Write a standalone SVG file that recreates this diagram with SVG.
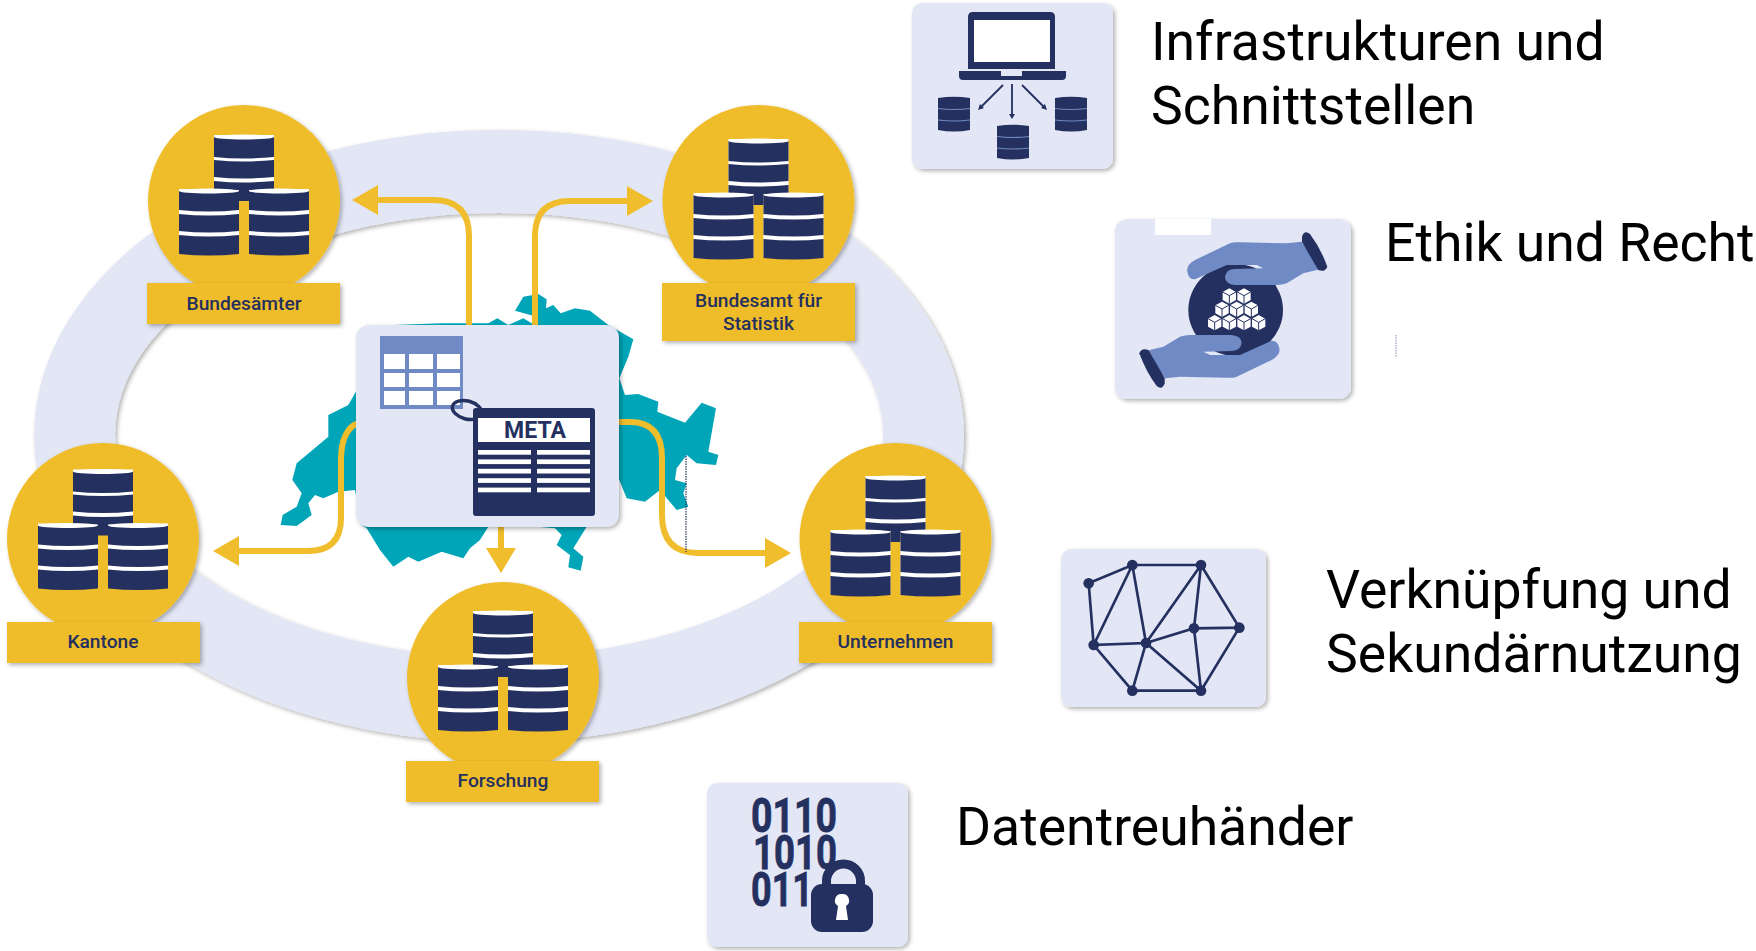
<svg xmlns="http://www.w3.org/2000/svg" width="1756" height="951" viewBox="0 0 1756 951">
<style>
.navy{fill:#24305f}.gold{fill:#f0bd2c}.card{fill:#e2e6f5;filter:url(#sh)}
.lab{font-family:Roboto,"Liberation Sans",sans-serif;font-weight:500;font-size:19.2px;fill:#24305f;text-anchor:middle}
.title{font-family:Roboto,"Liberation Sans",sans-serif;font-size:53.500px;fill:#000}
.bin{font-family:Roboto,"Liberation Sans",sans-serif;font-weight:700;font-size:48px;fill:#24305f;stroke:#24305f;stroke-width:.8}
.conn{fill:none;stroke:#f0bd2c;stroke-width:6}
.thin{fill:none;stroke:#24305f;stroke-width:1.8}
</style>
<defs>
<filter id="sh" x="-10%" y="-10%" width="125%" height="125%"><feDropShadow dx="2" dy="2" stdDeviation="2.2" flood-color="#000" flood-opacity=".3"/></filter>
<g id="db">
<g fill="#fff"><rect x="-30" y="-66" width="60" height="56"/><rect x="-65" y="-12" width="60" height="64"/><rect x="5" y="-12" width="60" height="64"/></g>
<g fill="#24305f">
<rect x="-5" y="-12" width="10" height="12"/>
<path d="M-30,-64 V-44 Q0,-41 30,-44 V-64 Z"/><path d="M-30,-41 V-24 Q0,-21 30,-24 V-41 Q0,-38 -30,-41Z"/><path d="M-30,-20 V-11 H30 V-20 Q0,-17 -30,-20Z"/>
<path d="M-65,-10 V9 Q-35,12 -5,9 V-10 Z"/><path d="M-65,13 V30 Q-35,33 -5,30 V13 Q-35,16 -65,13Z"/><path d="M-65,34 V53 Q-35,56 -5,53 V34 Q-35,37 -65,34Z"/>
<path d="M5,-10 V9 Q35,12 65,9 V-10 Z"/><path d="M5,13 V30 Q35,33 65,30 V13 Q35,16 5,13Z"/><path d="M5,34 V53 Q35,56 65,53 V34 Q35,37 5,34Z"/>
</g>
<g fill="#fff"><ellipse cx="0" cy="-64" rx="30" ry="2.500"/><ellipse cx="-35" cy="-10" rx="30" ry="2.500"/><ellipse cx="35" cy="-10" rx="30" ry="2.500"/></g>
</g>
<g id="mini">
<path fill="#24305f" d="M0,1 Q16,-1.500 32,1 V33 Q16,36 0,33Z"/>
<path d="M0,11.500 Q16,13.500 32,11.500 M0,23 Q16,25 32,23" fill="none" stroke="#6f8ac4" stroke-width="1.200"/>
</g>
<g id="cube"><path d="M0,-23 L20,-12 V12 L0,23 L-20,12 V-12Z" fill="#fff"/><path d="M-20,-12 L0,-1 L20,-12 M0,-1 V23" fill="none" stroke="#24305f" stroke-width="3"/></g>
<g id="hand"><path fill="#6f8ac4" d="M262,185 Q258,165 285,150 L390,100 Q400,95 420,97 L560,100 L605,95 L660,178 L610,190 L560,220 Q545,225 530,225 L405,225 Q375,222 375,200 Q378,178 405,177 L490,175 L470,165 L380,165 L285,208 Q265,208 262,185Z"/>
<path fill="#24305f" d="M606,80 Q613,58 630,72 Q662,115 682,170 Q675,188 655,180 Q625,130 606,95Z"/></g>
</defs>

<path id="ring" fill="#e2e6f5" filter="url(#sh)" fill-rule="evenodd" d="M34,436 A465,306 0 1 1 964,436 A465,306 0 1 1 34,436Z M115,435 A384,222 0 1 0 883,435 A384,222 0 1 0 115,435Z"/>

<polygon id="map" transform="translate(260 280) scale(.33333)" fill="#00a5b8" points="765,92 790,50 835,42 860,58 858,85 880,75 902,100 945,85 990,92 1045,135 1120,178 1105,230 1078,295 1095,345 1135,342 1195,365 1192,395 1275,428 1325,368 1368,385 1345,515 1375,525 1368,555 1310,550 1280,525 1250,565 1245,600 1280,610 1270,640 1285,680 1250,690 1200,630 1155,665 1100,655 1078,600 980,740 940,805 970,830 962,872 925,862 930,825 890,795 905,765 885,745 830,740 685,740 660,780 630,805 610,835 545,815 475,845 445,830 400,860 360,810 320,745 305,735 285,630 235,635 190,655 165,645 145,670 155,705 110,738 62,735 68,705 110,680 125,640 97,600 110,550 205,470 205,405 265,375 285,340 400,135 545,130 620,130 685,130 712,115 745,135 790,115 815,130 830,110"/>

<g id="connectors">
<path class="conn" d="M469,326 V236 Q469,200 433,200 H376"/>
<polygon class="gold" points="352,200 378,185 378,215"/>
<path class="conn" d="M535,326 V236 Q535,201 570,201 H630"/>
<polygon class="gold" points="653,201 627,186 627,216"/>
<path class="conn" d="M358,423 Q341,430 341,460 V518 Q341,551 308,551 H236"/>
<polygon class="gold" points="213,551 239,536 239,566"/>
<path class="conn" d="M617,422 H630 Q662,422 662,458 V515 Q662,553 698,553 H768"/>
<polygon class="gold" points="791,553 765,538 765,568"/>
<path class="conn" d="M501,525 V550"/>
<polygon class="gold" points="501,573 486,548 516,548"/>
</g>

<g id="node-meta">
<rect class="card" x="356" y="325" width="263" height="202" rx="13"/>
<rect x="380" y="336" width="83" height="73" fill="#6f8ac4"/>
<g fill="#fff"><rect x="384" y="354" width="21" height="15"/><rect x="409" y="354" width="24" height="15"/><rect x="437" y="354" width="23" height="15"/><rect x="384" y="373" width="21" height="14"/><rect x="409" y="373" width="24" height="14"/><rect x="437" y="373" width="23" height="14"/><rect x="384" y="391" width="21" height="14"/><rect x="409" y="391" width="24" height="14"/><rect x="437" y="391" width="23" height="14"/></g>
<rect class="navy" x="473" y="408" width="122" height="108" rx="3"/>
<ellipse cx="467" cy="410" rx="15" ry="9" transform="rotate(15 467 410)" fill="none" stroke="#24305f" stroke-width="3.500"/>
<rect x="478" y="418" width="112" height="24" fill="#fff"/>
<text x="535" y="438" font-family="Roboto,'Liberation Sans',sans-serif" font-weight="700" font-size="23" fill="#24305f" text-anchor="middle">META</text>
<g fill="#fff"><rect x="478" y="450" width="53" height="4.700"/><rect x="537" y="450" width="53" height="4.700"/><rect x="478" y="459.400" width="53" height="4.700"/><rect x="537" y="459.400" width="53" height="4.700"/><rect x="478" y="468.800" width="53" height="4.700"/><rect x="537" y="468.800" width="53" height="4.700"/><rect x="478" y="478.200" width="53" height="4.700"/><rect x="537" y="478.200" width="53" height="4.700"/><rect x="478" y="487.600" width="53" height="4.700"/><rect x="537" y="487.600" width="53" height="4.700"/></g>
</g>

<g id="node-bundesaemter">
<circle class="gold" cx="244" cy="201" r="96" filter="url(#sh)"/><use href="#db" x="244" y="201"/>
<rect class="gold" x="147" y="283" width="193" height="41" filter="url(#sh)"/><text class="lab" x="244" y="310">Bundesämter</text>
</g>
<g id="node-bfs">
<circle class="gold" cx="758.500" cy="201" r="96" filter="url(#sh)"/><use href="#db" x="758.500" y="205"/>
<rect class="gold" x="662" y="283" width="193" height="58" filter="url(#sh)"/><text class="lab" x="758.500" y="307">Bundesamt für</text><text class="lab" x="758.500" y="330">Statistik</text>
</g>
<g id="node-kantone">
<circle class="gold" cx="103" cy="539" r="96" filter="url(#sh)"/><use href="#db" x="103" y="535.500"/>
<rect class="gold" x="7" y="622" width="193" height="41" filter="url(#sh)"/><text class="lab" x="103" y="648">Kantone</text>
</g>
<g id="node-unternehmen">
<circle class="gold" cx="895.500" cy="539" r="96" filter="url(#sh)"/><use href="#db" x="895.500" y="542"/>
<rect class="gold" x="799" y="622" width="193" height="41" filter="url(#sh)"/><text class="lab" x="895.500" y="648">Unternehmen</text>
</g>
<g id="node-forschung">
<circle class="gold" cx="503" cy="678" r="96" filter="url(#sh)"/><use href="#db" x="503" y="677"/>
<rect class="gold" x="406" y="761" width="193" height="41" filter="url(#sh)"/><text class="lab" x="503" y="787">Forschung</text>
</g>

<g id="node-infrastruktur">
<rect class="card" x="912" y="3" width="201" height="166" rx="10"/>
<path class="navy" d="M968,17 Q968,12 973,12 H1050 Q1055,12 1055,17 V69 H968Z"/>
<rect x="974" y="20" width="76" height="42" fill="#fff"/>
<path class="navy" d="M959,71 H1001 V76 H1022 V71 H1066 V76 Q1066,80 1062,80 H963 Q959,80 959,76Z"/>
<use href="#mini" x="938" y="97"/><use href="#mini" x="997" y="125"/><use href="#mini" x="1055" y="97"/>
<path class="thin" d="M1003,85 L980,108 M1012,84 V117 M1022,85 L1045,108"/>
<path class="navy" d="M978,110 L980,104 L984,108Z M1012,119 L1009,114 H1015Z M1047,110 L1041,108 L1045,104Z"/>
<text class="title" x="1151" y="60">Infrastrukturen und</text><text class="title" x="1151" y="124">Schnittstellen</text>
</g>

<g id="node-ethik">
<rect class="card" x="1115" y="219" width="236" height="180" rx="12"/>
<rect x="1155" y="219" width="56" height="16" fill="#fff"/>
<g transform="translate(1100 210) scale(.33333)">
<ellipse cx="407" cy="300" rx="142" ry="138" fill="#24305f"/>
<use href="#hand"/><use href="#hand" transform="rotate(180 400 300)"/>
<use href="#cube" x="388" y="258"/><use href="#cube" x="432" y="258"/>
<use href="#cube" x="366" y="298"/><use href="#cube" x="410" y="298"/><use href="#cube" x="454" y="298"/>
<use href="#cube" x="344" y="338"/><use href="#cube" x="388" y="338"/><use href="#cube" x="432" y="338"/><use href="#cube" x="476" y="338"/>
</g>
<text class="title" x="1385" y="261">Ethik und Recht</text>
</g>
<path id="speck1" d="M1396,335 V357" stroke="#24305f" stroke-opacity=".35" stroke-width="1.500" stroke-dasharray="1.500 1" fill="none"/>
<path id="speck2" d="M686,456 V552" stroke="#24305f" stroke-opacity=".6" stroke-width="2" stroke-dasharray="1.500 1" fill="none"/>

<g id="node-verknuepfung">
<rect class="card" x="1061" y="549" width="205" height="158" rx="10"/>
<g transform="translate(1050 540) scale(.33333)">
<path stroke="#24305f" stroke-width="8" fill="none" d="M116,130 L247,75 L453,75 M116,130 L131,315 L247,75 L288,309 L131,315 L247,452 L453,452 L288,309 L453,75 L432,265 L568,263 L453,75 M288,309 L432,265 L453,452 L568,263 M288,309 L247,452"/>
<g fill="#24305f"><circle cx="116" cy="130" r="16"/><circle cx="247" cy="75" r="16"/><circle cx="453" cy="75" r="16"/><circle cx="568" cy="263" r="16"/><circle cx="432" cy="265" r="16"/><circle cx="288" cy="309" r="16"/><circle cx="131" cy="315" r="16"/><circle cx="247" cy="452" r="16"/><circle cx="453" cy="452" r="16"/></g>
</g>
<text class="title" x="1326" y="608">Verknüpfung und</text><text class="title" x="1326" y="672">Sekundärnutzung</text>
</g>

<g id="node-treuhaender">
<rect class="card" x="707" y="783" width="201" height="164" rx="10"/>
<text class="bin" x="751" y="832" textLength="86" lengthAdjust="spacingAndGlyphs">0110</text>
<text class="bin" x="753" y="869" textLength="84" lengthAdjust="spacingAndGlyphs">1010</text>
<text class="bin" x="751" y="906" textLength="62" lengthAdjust="spacingAndGlyphs">011</text>
<path d="M826.500,892 V881 A17,17 0 0 1 860.500,881 V892" fill="none" stroke="#24305f" stroke-width="9"/>
<rect class="navy" x="811" y="884" width="62" height="48" rx="11"/>
<path fill="#fff" d="M842,894 A6.500,6.500 0 0 1 846,906 L848,920 H836 L838,906 A6.500,6.500 0 0 1 842,894Z"/>
<text class="title" x="956" y="845">Datentreuhänder</text>
</g>
</svg>
